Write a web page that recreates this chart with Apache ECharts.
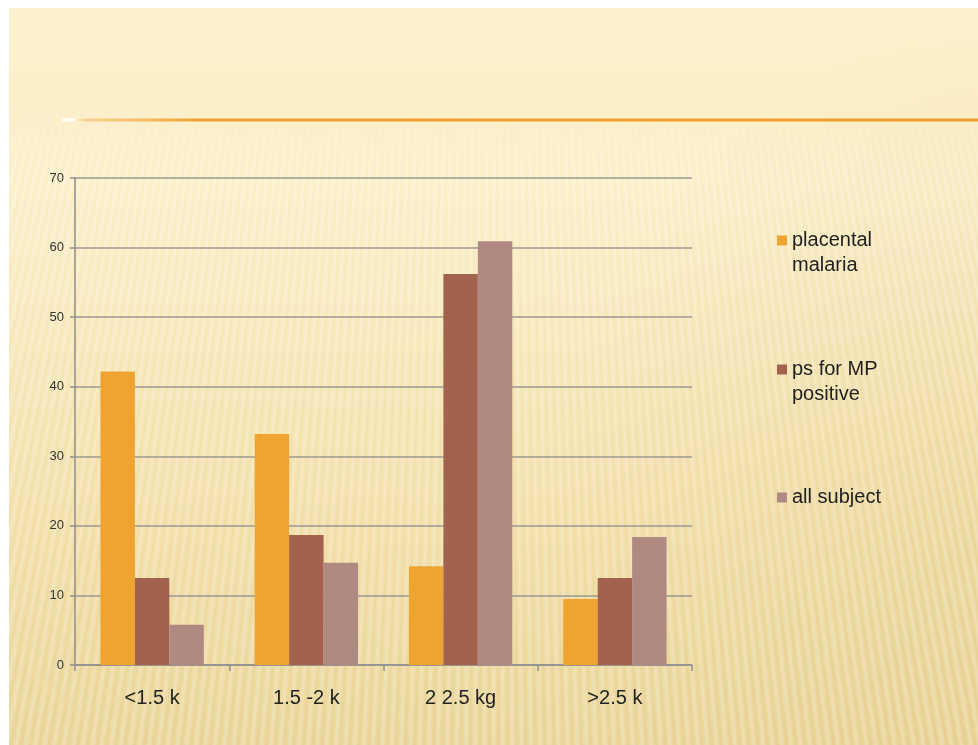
<!DOCTYPE html>
<html>
<head>
<meta charset="utf-8">
<script src="https://cdn.jsdelivr.net/npm/echarts@6/dist/echarts.min.js"></script>
<style>
  html, body { margin: 0; padding: 0; background: #ffffff; }
  #slide {
    position: absolute; left: 9px; top: 8px; width: 969px; height: 737px;
    background:
      radial-gradient(ellipse 520px 520px at 1060px 520px, rgba(214,186,110,0.28), rgba(214,186,110,0) 100%),
      linear-gradient(180deg, #FCF1CE 0%, #FBEEC6 25%, #F4E2AC 60%, #E9D393 100%);
  }
  #stripes {
    position: absolute; left: 9px; top: 8px; width: 969px; height: 737px;
    background: repeating-conic-gradient(from 160deg at 50% -260%,
      rgba(255,255,255,0.30) 0deg, rgba(255,255,255,0) 0.1deg, rgba(255,255,255,0.30) 0.2deg);
    -webkit-mask-image: linear-gradient(180deg, transparent 0, transparent 80px, #000 170px, #000 100%);
    mask-image: linear-gradient(180deg, transparent 0, transparent 80px, #000 170px, #000 100%);
  }
  #chart { position: absolute; left: 0; top: 0; width: 978px; height: 745px; }
</style>
</head>
<body>
<div id="slide"></div>
<div id="stripes"></div>
<div id="chart"></div>
<script>
// Birth-weight groups and the share (%) of each group
const categories = ['<1.5 k', '1.5 -2 k', '2 2.5 kg', '>2.5 k'];
const placentalMalaria = [42.2, 33.2, 14.2, 9.5];
const psForMpPositive = [12.5, 18.7, 56.2, 12.5];
const allSubject = [5.8, 14.7, 60.9, 18.4];

const seriesNames = ['placental malaria', 'ps for MP positive', 'all subject'];
const legendLabels = ['placental\nmalaria', 'ps for MP\npositive', 'all subject'];
const seriesColors = ['#EFA431', '#A2624E', '#B08A82'];
const yTicks = { min: 0, max: 70, interval: 10 };

const font = 'Liberation Sans, Arial, sans-serif';
const chart = echarts.init(document.getElementById('chart'), null, { renderer: 'canvas' });

// Each legend entry sits on its own; two-line labels get a blank first line
// so the marker lines up with the top line of text.
const legendTops = [203, 332, 485];
const legends = seriesNames.map((name, i) => ({
  data: [name],
  left: 777,
  top: legendTops[i],
  padding: 0,
  itemWidth: 10,
  itemHeight: 10,
  icon: 'rect',
  selectedMode: false,
  formatter: () => (legendLabels[i].indexOf('\n') >= 0 ? '\n' : '') + legendLabels[i],
  textStyle: { fontFamily: font, fontSize: 20, lineHeight: 25, color: '#1e1e1e' }
}));

const barSeries = [placentalMalaria, psForMpPositive, allSubject].map((values, i) => ({
  name: seriesNames[i],
  type: 'bar',
  data: values,
  barGap: '0%',
  barCategoryGap: '33%',
  itemStyle: { color: seriesColors[i] },
  emphasis: { disabled: true }
}));

chart.setOption({
  backgroundColor: 'transparent',
  animation: false,
  color: seriesColors,
  grid: { left: 75, right: 286, top: 178, bottom: 80 },
  legend: legends,
  graphic: [{
    type: 'line',
    shape: { x1: 62, y1: 120, x2: 978, y2: 120 },
    style: {
      lineWidth: 3,
      stroke: {
        type: 'linear', x: 0, y: 0, x2: 1, y2: 0,
        colorStops: [
          { offset: 0, color: 'rgba(255,255,255,0.9)' },
          { offset: 0.015, color: 'rgba(255,255,255,0.9)' },
          { offset: 0.03, color: 'rgba(244,178,80,0.5)' },
          { offset: 0.15, color: '#F0A030' },
          { offset: 1, color: '#EF9E2C' }
        ]
      }
    },
    silent: true
  }],
  xAxis: {
    type: 'category',
    data: categories,
    axisLine: { lineStyle: { color: '#8e8e8e', width: 1.5 } },
    axisTick: { show: true, length: 6, lineStyle: { color: '#8e8e8e', width: 1.5 } },
    axisLabel: { fontFamily: font, fontSize: 20, color: '#222222', margin: 23 }
  },
  yAxis: {
    type: 'value',
    min: yTicks.min,
    max: yTicks.max,
    interval: yTicks.interval,
    axisLine: { show: true, lineStyle: { color: '#8e8e8e', width: 1.5 } },
    axisTick: { show: true, length: 5, lineStyle: { color: '#8e8e8e', width: 1.5 } },
    axisLabel: { fontFamily: font, fontSize: 13, color: '#333333', margin: 11 },
    splitLine: { lineStyle: { color: '#9b9890', width: 1.5 } }
  },
  series: barSeries
});
</script>
</body>
</html>
